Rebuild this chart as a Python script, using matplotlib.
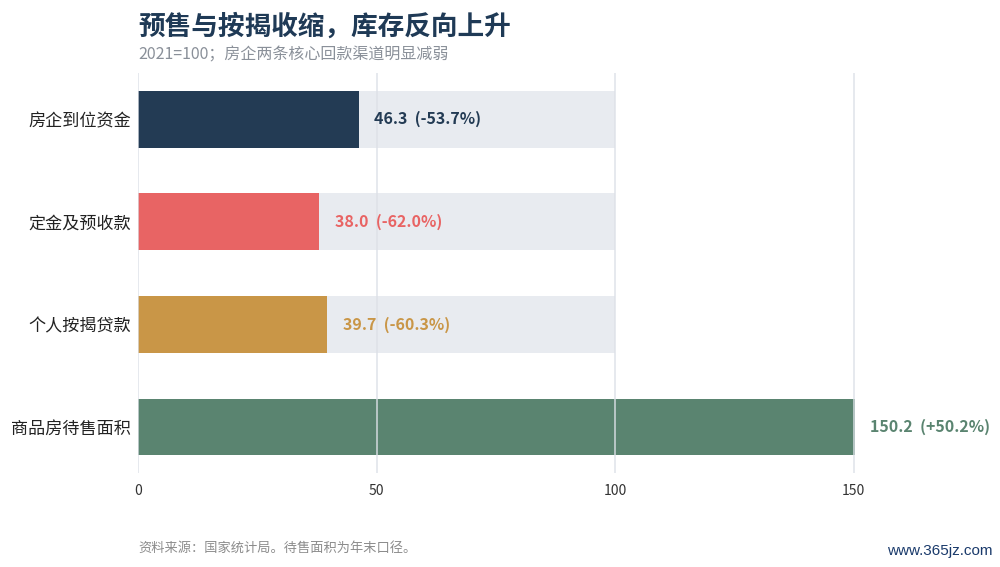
import matplotlib
matplotlib.use("Agg")
import matplotlib.pyplot as plt

plt.rcParams['font.family'] = ['Noto Sans CJK SC', 'DejaVu Sans']

categories = ["房企到位资金", "定金及预收款", "个人按揭贷款", "商品房待售面积"]
values = [46.3, 38.0, 39.7, 150.2]
changes = ["-53.7%", "-62.0%", "-60.3%", "+50.2%"]
colors = ["#233b54", "#e86464", "#c99647", "#5a8470"]
baseline = 100
xticks = [0, 50, 100, 150]

title = "预售与按揭收缩，库存反向上升"
subtitle = "2021=100；房企两条核心回款渠道明显减弱"
source = "资料来源：国家统计局。待售面积为年末口径。"
watermark = "www.365jz.com"

fig = plt.figure(figsize=(10, 5.67), dpi=100)
ax = fig.add_axes([0.138, 0.1655, 0.859, 0.7055])

ypos = list(range(len(categories)))
bh = 0.555
ax.barh(ypos, [baseline] * len(categories), height=bh, color="#e8ebf0", zorder=1)
ax.barh(ypos, values, height=bh, color=colors, zorder=2)

for x in xticks:
    ax.axvline(x, color="#dde1e7", alpha=0.85, linewidth=1.2, zorder=5)

for y, v, c, col in zip(ypos, values, changes, colors):
    ax.text(v + 3.2, y, f"{v:.1f}  ({c})", va="center", ha="left",
            color=col, fontsize=11.5, fontweight="bold", zorder=6)

ax.set_xlim(0, 180)
ax.set_ylim(3.45, -0.45)
ax.set_yticks(ypos)
ax.set_yticklabels(categories, fontsize=12.3, color="#222222")
ax.set_xticks(xticks)
ax.set_xticklabels([str(t) for t in xticks], fontsize=10, color="#333333")
ax.tick_params(axis="both", length=0)
ax.tick_params(axis="y", pad=5)
ax.tick_params(axis="x", pad=8)
for s in ax.spines.values():
    s.set_visible(False)

fig.text(0.138, 0.952, title, fontsize=19.2, fontweight="bold", color="#1f3a56",
         ha="left", va="center")
fig.text(0.138, 0.903, subtitle, fontsize=11.5, color="#8a9099",
         ha="left", va="center")
fig.text(0.138, 0.033, source, fontsize=9.5, color="#8c8c8c",
         ha="left", va="center")
fig.text(0.993, 0.028, watermark, fontsize=11, color="#1a3a6b",
         ha="right", va="center", family=["Liberation Sans Narrow", "Liberation Sans", "DejaVu Sans"])

fig.savefig("out.png", dpi=100)
